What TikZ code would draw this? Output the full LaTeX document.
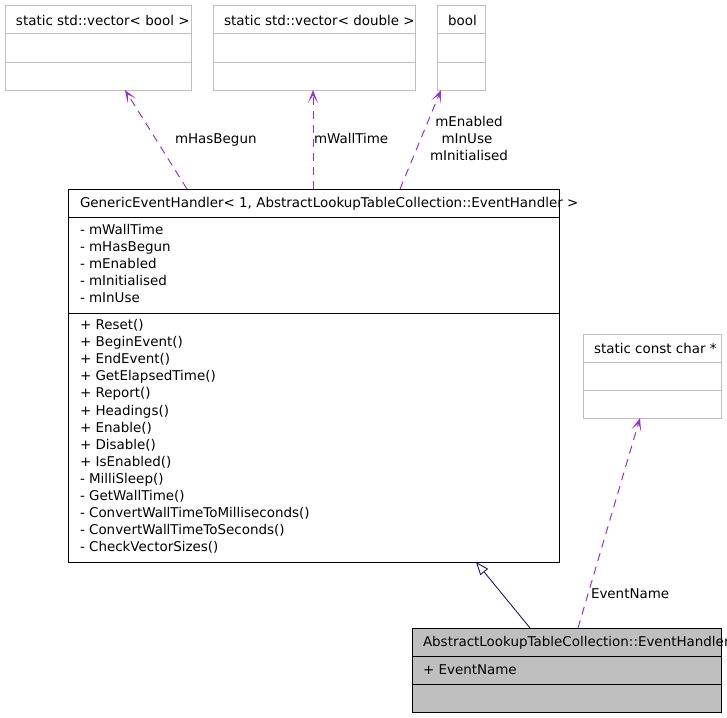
\documentclass[tikz,border=0pt]{standalone}
\usepackage{fontspec}
\setmainfont{DejaVu Sans}
\usetikzlibrary{arrows.meta}
\definecolor{boxgray}{HTML}{BFBFBF}
\definecolor{usecol}{HTML}{9A32CD}
\definecolor{inhcol}{HTML}{191970}
\begin{document}
\begin{tikzpicture}[x=1pt,y=-1pt,
  every node/.style={inner sep=0pt, outer sep=0pt},
  txt/.style={anchor=base west, font=\fontsize{13.45}{17.1}\selectfont},
  lbl/.style={anchor=base, font=\fontsize{13.45}{17.1}\selectfont},
  extbox/.style={draw=boxgray, line width=1pt, rectangle, anchor=north west},
  clsbox/.style={draw=black, line width=1pt, rectangle, anchor=north west},
  divext/.style={draw=boxgray, line width=1pt},
  divcls/.style={draw=black, line width=1pt},
  usage/.style={draw=usecol, line width=1pt, dash pattern=on 8pt off 6pt,
    -{Stealth[open, length=13pt, width=10pt, inset=7.5pt, line width=1.3pt]}},
  inherit/.style={draw=inhcol, line width=0.9pt,
    -{Triangle[open, length=13pt, width=10pt]}}
]
\useasboundingbox (0,0) rectangle (727,717);
\fill[white] (0,0) rectangle (727,717);

% external type boxes
\node[extbox, minimum width=186pt, minimum height=84pt] (vb) at (5,6) {};
\draw[divext] ([yshift=-28pt]vb.north west) -- ([yshift=-28pt]vb.north east);
\draw[divext] ([yshift=-56pt]vb.north west) -- ([yshift=-56pt]vb.north east);
\node[txt] (vbt) at (16,25.5) {static std::vector< bool >};

\node[extbox, minimum width=202pt, minimum height=84pt] (vd) at (213,6) {};
\draw[divext] ([yshift=-28pt]vd.north west) -- ([yshift=-28pt]vd.north east);
\draw[divext] ([yshift=-56pt]vd.north west) -- ([yshift=-56pt]vd.north east);
\node[txt] (vdt) at (224,25.5) {static std::vector< double >};

\node[extbox, minimum width=48pt, minimum height=84pt] (bo) at (437,6) {};
\draw[divext] ([yshift=-28pt]bo.north west) -- ([yshift=-28pt]bo.north east);
\draw[divext] ([yshift=-56pt]bo.north west) -- ([yshift=-56pt]bo.north east);
\node[txt] (bot) at (448,25.5) {bool};

\node[extbox, minimum width=138pt, minimum height=84pt] (ch) at (583,334) {};
\draw[divext] ([yshift=-28pt]ch.north west) -- ([yshift=-28pt]ch.north east);
\draw[divext] ([yshift=-56pt]ch.north west) -- ([yshift=-56pt]ch.north east);
\node[txt] (cht) at (594,353.5) {static const char *};

% main class box
\node[clsbox, minimum width=491pt, minimum height=373pt] (main) at (68,189) {};
\draw[divcls] ([yshift=-28pt]main.north west) -- ([yshift=-28pt]main.north east);
\draw[divcls] ([yshift=-124pt]main.north west) -- ([yshift=-124pt]main.north east);
\node[txt] (maint) at (80,207.5) {GenericEventHandler< 1, AbstractLookupTableCollection::EventHandler >};
\foreach \t [count=\i] in {- mWallTime, - mHasBegun, - mEnabled, - mInitialised, - mInUse}
  \node[txt] (att\i) at (80,{234+17.1*(\i-1)}) {\t};
\foreach \t [count=\i] in {+ Reset(), + BeginEvent(), + EndEvent(), + GetElapsedTime(),
  + Report(), + Headings(), + Enable(), + Disable(), + IsEnabled(), - MilliSleep(),
  - GetWallTime(), - ConvertWallTimeToMilliseconds(), - ConvertWallTimeToSeconds(),
  - CheckVectorSizes()}
  \node[txt] (met\i) at (80,{329.5+17.1*(\i-1)}) {\t};

% derived class box
\node[clsbox, fill=boxgray, minimum width=309pt, minimum height=84pt] (eh) at (412,628) {};
\draw[divcls] ([yshift=-28pt]eh.north west) -- ([yshift=-28pt]eh.north east);
\draw[divcls] ([yshift=-56pt]eh.north west) -- ([yshift=-56pt]eh.north east);
\node[txt] (eht) at (423,646) {AbstractLookupTableCollection::EventHandler};
\node[txt] (eha) at (423,674) {+ EventName};

% usage relations
\draw[usage] ([xshift=119pt]main.north west) -- ([xshift=120pt]vb.south west);
\node[txt] (l1) at (175,143.3) {mHasBegun};
\draw[usage] ([xshift=245pt]main.north west) -- ([xshift=100pt]vd.south west);
\node[txt] (l2) at (314,143.3) {mWallTime};
\draw[usage] ([xshift=332pt]main.north west) -- ([xshift=4pt]bo.south west);
\node[lbl] (l3a) at (469,126) {mEnabled};
\node[lbl] (l3b) at (467,143) {mInUse};
\node[lbl] (l3c) at (469,160) {mInitialised};
\draw[usage] ([xshift=166pt]eh.north west) -- ([xshift=57pt]ch.south west);
\node[txt] (l4) at (591,598.3) {EventName};

% inheritance
\draw[inherit] ([xshift=118pt]eh.north west) -- ([xshift=408pt]main.south west);
\end{tikzpicture}
\end{document}
